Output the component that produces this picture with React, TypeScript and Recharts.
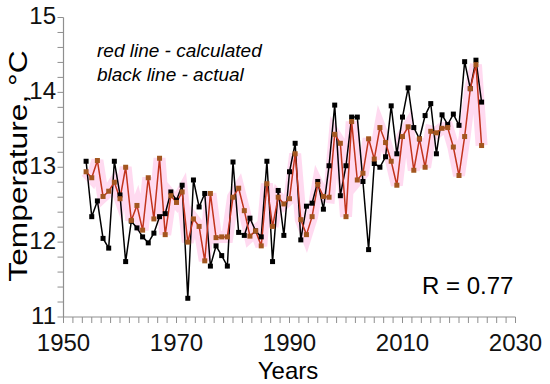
import React from 'react';
import { LineChart, Line, XAxis, YAxis, CartesianGrid } from 'recharts';

const years = [
  1954, 1955, 1956, 1957, 1958, 1959, 1960, 1961, 1962, 1963,
  1964, 1965, 1966, 1967, 1968, 1969, 1970, 1971, 1972, 1973,
  1974, 1975, 1976, 1977, 1978, 1979, 1980, 1981, 1982, 1983,
  1984, 1985, 1986, 1987, 1988, 1989, 1990, 1991, 1992, 1993,
  1994, 1995, 1996, 1997, 1998, 1999, 2000, 2001, 2002, 2003,
  2004, 2005, 2006, 2007, 2008, 2009, 2010, 2011, 2012, 2013,
  2014, 2015, 2016, 2017, 2018, 2019, 2020, 2021, 2022, 2023,
  2024,
];

const actual = [
  13.08, 12.34, 12.55, 12.05, 11.92, 13.08, 12.63, 11.74, 12.28, 12.19,
  12.07, 11.99, 12.12, 12.34, 12.38, 12.67, 12.56, 12.76, 11.25, 12.83,
  12.47, 12.65, 11.68, 11.95, 11.82, 11.68, 13.07, 12.13, 12.09, 12.32,
  12.15, 12.07, 13.08, 11.74, 12.69, 12.09, 12.94, 13.32, 12.03, 12.48,
  12.52, 12.81, 12.44, 13.02, 13.83, 12.62, 13.02, 13.67, 13.67, 12.81,
  11.9, 13.05, 13.0, 13.14, 13.82, 13.18, 13.67, 14.06, 13.53, 13.38,
  13.69, 13.85, 13.18, 13.7, 13.57, 13.71, 13.56, 14.41, 14.05, 14.43,
  13.87,
];

const calculated = [
  12.94, 12.86, 13.09, 12.61, 12.68, 12.8, 12.58, 13.0, 12.29, 12.49,
  12.16, 12.86, 12.31, 13.12, 12.1, 12.62, 12.53, 12.67, 12.0, 12.31,
  12.21, 11.75, 12.65, 12.06, 12.07, 12.07, 12.6, 12.72, 12.42, 12.08,
  12.15, 11.95, 12.78, 12.21, 12.6, 12.51, 12.58, 13.18, 12.3, 12.1,
  12.34, 12.77, 12.61, 12.6, 13.44, 13.32, 12.34, 13.61, 12.83, 12.92,
  13.38, 13.11, 13.53, 13.33, 13.08, 12.76, 13.41, 13.54, 12.96, 13.38,
  13.0, 13.48, 13.46, 13.52, 13.53, 13.27, 12.89, 13.41, 14.05, 14.37,
  13.29,
];

const xGridTicks = [1950, 1960, 1970, 1980, 1990, 2000, 2010, 2020, 2030];
const xTickLabels = [1950, 1970, 1990, 2010, 2030];
const yTicks = [11, 12, 13, 14, 15];

const xMinorTicks: number[] = [];
for (let k = 0; k <= 48; k++) xMinorTicks.push(1950 + (k * 10) / 6);
const yMinorTicks: number[] = [];
for (let k = 0; k <= 20; k++) yMinorTicks.push((110 + 2 * k) / 10);

const data = years.map((y, i) => ({ year: y, actual: actual[i], calc: calculated[i] }));

const FONT = '"Liberation Sans", Arial, sans-serif';
const GRID = '#8f8f8f';

const near = (v: number, list: number[]) => list.some((t) => Math.abs(t - v) < 1e-6);

const XTick = (props: any) => {
  const { x, payload } = props;
  if (!near(payload.value, xTickLabels)) return <g />;
  return (
    <text x={x} y={351} textAnchor="middle" fontFamily={FONT} fontSize={24} fill="#111">
      {Math.round(payload.value)}
    </text>
  );
};

const YTick = (props: any) => {
  const { y, payload } = props;
  if (!near(payload.value, yTicks)) return <g />;
  return (
    <text x={56} y={y} dy="0.28em" textAnchor="end" fontFamily={FONT} fontSize={24} fill="#111">
      {Math.round(payload.value)}
    </text>
  );
};

const BlackDot = (props: any) => {
  const { cx, cy } = props;
  if (cx == null || cy == null) return <g />;
  return <rect x={cx - 2.5} y={cy - 2.5} width={5} height={5} fill="#000" />;
};

const RedDot = (props: any) => {
  const { cx, cy } = props;
  if (cx == null || cy == null) return <g />;
  return <rect x={cx - 2.5} y={cy - 2.5} width={5} height={5} fill="#a3561f" />;
};

const vGen = (p: any) => {
  const s = p && p.xAxis && p.xAxis.scale;
  return typeof s === 'function' ? xGridTicks.map((v) => s(v)) : [];
};
const hGen = (p: any) => {
  const s = p && p.yAxis && p.yAxis.scale;
  return typeof s === 'function' ? yTicks.map((v) => s(v)) : [];
};

export default function App() {
  return (
    <div style={{ position: 'absolute', left: 0, top: 0, width: 550, height: 384, background: '#fff', fontFamily: FONT }}>
      <LineChart
        width={550}
        height={384}
        data={data}
        margin={{ top: 17.5, right: 34.5, bottom: 0, left: 0 }}
      >
        <CartesianGrid
          stroke={GRID}
          strokeWidth={1.2}
          verticalCoordinatesGenerator={vGen}
          horizontalCoordinatesGenerator={hGen}
        />
        <XAxis
          dataKey="year"
          type="number"
          domain={[1950, 2030]}
          ticks={xMinorTicks}
          height={67}
          tick={<XTick />}
          tickSize={6}
          tickLine={{ stroke: GRID }}
          axisLine={{ stroke: GRID, strokeWidth: 1.2 }}
          interval={0}
          allowDataOverflow
        />
        <YAxis
          type="number"
          domain={[11, 15]}
          ticks={yMinorTicks}
          width={63.5}
          tick={<YTick />}
          tickSize={6}
          tickLine={{ stroke: GRID }}
          axisLine={{ stroke: GRID, strokeWidth: 1.2 }}
          interval={0}
          allowDataOverflow
        />
        <Line
          dataKey="calc"
          stroke="#ff8fd0"
          strokeOpacity={0.33}
          strokeWidth={12}
          dot={false}
          activeDot={false}
          isAnimationActive={false}
        />
        <Line
          dataKey="actual"
          stroke="#000"
          strokeWidth={1.5}
          dot={<BlackDot />}
          activeDot={false}
          isAnimationActive={false}
        />
        <Line
          dataKey="calc"
          stroke="#c2341c"
          strokeWidth={1.5}
          dot={<RedDot />}
          activeDot={false}
          isAnimationActive={false}
        />
      </LineChart>
      <svg
        width={550}
        height={384}
        style={{ position: 'absolute', left: 0, top: 0, pointerEvents: 'none' }}
        fontFamily={FONT}
      >
        <text x={97} y={57} fontSize={19} fontStyle="italic" fill="#000">red line - calculated</text>
        <text x={97} y={81} fontSize={19} fontStyle="italic" fill="#000">black line - actual</text>
        <text x={422} y={294} fontSize={24} fill="#000">R = 0.77</text>
        <text x={288} y={379} fontSize={24} textAnchor="middle" fill="#000">Years</text>
        <text transform="translate(27,166) rotate(-90) scale(1.22,1)" fontSize={26} textAnchor="middle" fill="#000">
          Temperature, °C
        </text>
      </svg>
    </div>
  );
}
